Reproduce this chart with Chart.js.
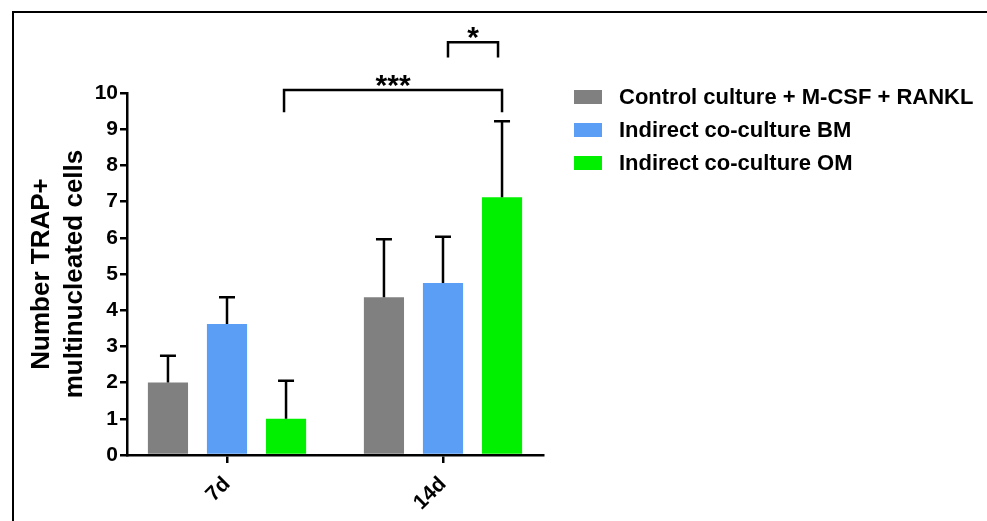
<!DOCTYPE html>
<html>
<head>
<meta charset="utf-8">
<script src="https://cdn.jsdelivr.net/npm/chart.js@4"></script>
<style>
  html, body { margin: 0; padding: 0; background: #fff; }
  #wrap { width: 987px; height: 521px; }
</style>
</head>
<body>
<div id="wrap"><canvas id="chart" width="987" height="521"></canvas></div>
<script>
// data
const categories = ['7d', '14d'];
const seriesNames = ['Control culture + M-CSF + RANKL', 'Indirect co-culture BM', 'Indirect co-culture OM'];
const seriesColors = ['#808080', '#5a9ff5', '#00f000'];
const controlMean = [2.0, 4.36];
const controlSd = [0.74, 1.6];
const bmMean = [3.62, 4.75];
const bmSd = [0.74, 1.28];
const omMean = [1.0, 7.12];
const omSd = [1.05, 2.1];
const yTicks = [0, 1, 2, 3, 4, 5, 6, 7, 8, 9, 10];

// significance brackets: [category, series] from -> to, level, foot level
const sigText = ['***', '*'];
const sigFrom = [[0, 2], [1, 1]];
const sigTo = [[1, 2], [1, 2]];
const sigTop = [10.08, 11.4];
const sigFoot = [9.47, 10.98];

const means = [controlMean, bmMean, omMean];
const sds = [controlSd, bmSd, omSd];
const FONT = '"Liberation Sans", Arial, sans-serif';

const errorBars = {
  id: 'errorBars',
  afterDatasetsDraw(chart) {
    const ctx = chart.ctx, y = chart.scales.y;
    ctx.save();
    ctx.strokeStyle = '#000';
    ctx.lineWidth = 2.5;
    chart.data.datasets.forEach((ds, di) => {
      chart.getDatasetMeta(di).data.forEach((bar, i) => {
        const top = y.getPixelForValue(means[di][i] + sds[di][i]);
        ctx.beginPath();
        ctx.moveTo(bar.x, bar.y);
        ctx.lineTo(bar.x, top);
        ctx.moveTo(bar.x - 8, top);
        ctx.lineTo(bar.x + 8, top);
        ctx.stroke();
      });
    });
    ctx.restore();
  }
};

const extras = {
  id: 'extras',
  beforeDraw(chart) {
    const ctx = chart.ctx;
    ctx.save();
    ctx.fillStyle = '#fff';
    ctx.fillRect(0, 0, chart.width, chart.height);
    ctx.restore();
  },
  afterDraw(chart) {
    const ctx = chart.ctx, y = chart.scales.y;
    ctx.save();
    // frame
    ctx.strokeStyle = '#000';
    ctx.lineWidth = 2;
    ctx.beginPath();
    ctx.moveTo(13, chart.height);
    ctx.lineTo(13, 12);
    ctx.lineTo(chart.width, 12);
    ctx.stroke();

    // brackets
    ctx.lineWidth = 2.5;
    ctx.fillStyle = '#000';
    ctx.textAlign = 'center';
    ctx.textBaseline = 'alphabetic';
    sigText.forEach((t, k) => {
      const a = chart.getDatasetMeta(sigFrom[k][1]).data[sigFrom[k][0]];
      const b = chart.getDatasetMeta(sigTo[k][1]).data[sigTo[k][0]];
      const x1 = k === 1 ? a.x + 5 : a.x - 2;
      const x2 = k === 1 ? b.x - 4 : b.x;
      const yt = y.getPixelForValue(sigTop[k]);
      const yf = y.getPixelForValue(sigFoot[k]);
      ctx.beginPath();
      ctx.moveTo(x1, yf);
      ctx.lineTo(x1, yt);
      ctx.lineTo(x2, yt);
      ctx.lineTo(x2, yf);
      ctx.stroke();
      ctx.font = 'bold 30px ' + FONT;
      ctx.fillText(t, (x1 + x2) / 2, yt + 5);
    });

    // legend
    ctx.textAlign = 'left';
    ctx.textBaseline = 'middle';
    ctx.font = 'bold 22px ' + FONT;
    seriesNames.forEach((n, i) => {
      const cy = 97 + i * 33;
      ctx.fillStyle = seriesColors[i];
      ctx.fillRect(574, cy - 7, 28, 14);
      ctx.fillStyle = '#000';
      ctx.fillText(n, 619, cy + 1);
    });
    ctx.restore();
  }
};

new Chart(document.getElementById('chart'), {
  type: 'bar',
  data: {
    datasets: seriesNames.map((name, di) => ({
      label: name,
      data: categories.map((c, i) => ({ x: i, y: means[di][i] })),
      backgroundColor: seriesColors[di],
      borderWidth: 0,
      categoryPercentage: 0.82,
      barPercentage: 0.68
    }))
  },
  options: {
    responsive: false,
    animation: false,
    layout: { padding: { left: 20, right: 444, top: 93, bottom: 0 } },
    plugins: { legend: { display: false }, tooltip: { enabled: false } },
    scales: {
      x: {
        type: 'linear',
        offset: false,
        min: -0.463,
        max: 1.463,
        afterBuildTicks(scale) { scale.ticks = categories.map((c, i) => ({ value: i })); },
        afterFit(scale) { scale.height = 66; },
        grid: { display: true, offset: false, drawOnChartArea: false, drawTicks: true, tickLength: 8, color: '#000', lineWidth: 2.5 },
        border: { color: '#000', width: 2.5 },
        ticks: {
          color: '#000',
          maxRotation: 45,
          minRotation: 45,
          padding: 9,
          font: { family: FONT, size: 21, weight: 'bold' },
          callback: (v) => categories[v]
        }
      },
      y: {
        min: 0,
        max: 10,
        afterBuildTicks(scale) { scale.ticks = yTicks.map(v => ({ value: v })); },
        afterFit(scale) { scale.width = 107; },
        grid: { display: true, drawOnChartArea: false, drawTicks: true, tickLength: 7, color: '#000', lineWidth: 2.5 },
        border: { color: '#000', width: 2.5 },
        ticks: {
          color: '#000',
          padding: 2,
          font: { family: FONT, size: 21, weight: 'bold' }
        },
        title: {
          display: true,
          text: ['Number TRAP+', 'multinucleated cells'],
          color: '#000',
          padding: { top: 5, bottom: 0 },
          font: { family: FONT, size: 26, weight: 'bold', lineHeight: 1.27 }
        }
      }
    }
  },
  plugins: [errorBars, extras]
});
</script>
</body>
</html>
